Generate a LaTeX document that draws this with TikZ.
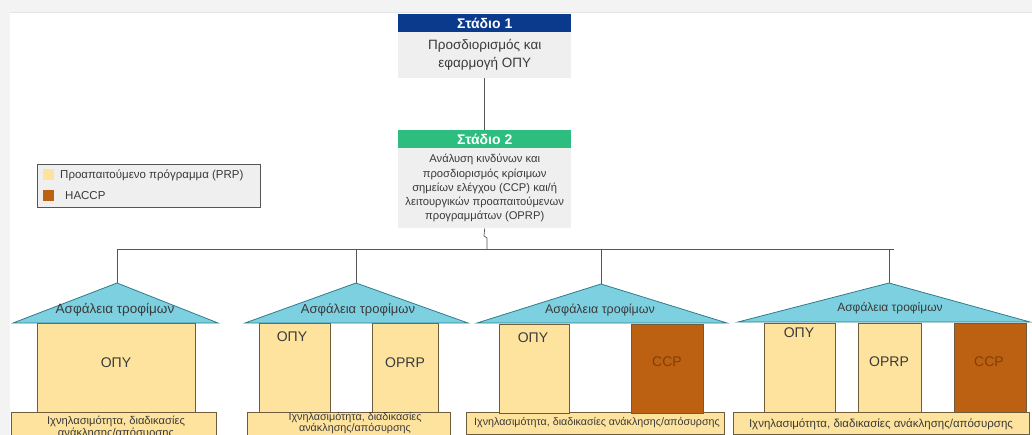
\documentclass[tikz,border=0pt]{standalone}
\usepackage{fontspec}
\setmainfont{Liberation Sans}
\definecolor{framegray}{HTML}{F3F3F3}
\definecolor{frameline}{HTML}{E4E4E4}
\definecolor{stageblue}{HTML}{0B3A8C}
\definecolor{stagegreen}{HTML}{2DBE7F}
\definecolor{bodygray}{HTML}{EFEFEF}
\definecolor{roofcyan}{HTML}{7DD0E0}
\definecolor{roofedge}{HTML}{2E7C8C}
\definecolor{prpfill}{HTML}{FDE39E}
\definecolor{prpedge}{HTML}{6E5C3C}
\definecolor{ccpfill}{HTML}{BC6112}
\definecolor{ccptext}{HTML}{7E3F0A}
\definecolor{txtgray}{HTML}{3A3A3A}
\definecolor{linegray}{HTML}{555555}
\begin{document}
\begin{tikzpicture}[x=1pt,y=-1pt,
  header/.style={fill=#1, text=white, minimum width=173pt, minimum height=18pt,
    inner sep=0pt, anchor=north west, font=\bfseries\fontsize{14}{16}\selectfont},
  stagebody/.style={fill=bodygray, minimum width=173pt, minimum height=#1,
    inner sep=0pt, anchor=north west, align=center, text=txtgray},
  pillar/.style={draw=prpedge, line width=0.8pt, fill=prpfill, anchor=north west,
    inner sep=0pt},
  ccppillar/.style={pillar, fill=ccpfill},
  roof/.style={draw=roofedge, line width=0.8pt, fill=roofcyan},
  rooftext/.style={text=txtgray, font=\fontsize{#1}{14}\selectfont},
  pillartext/.style={text=txtgray, font=\fontsize{14}{16}\selectfont},
  basebar/.style={pillar, align=center},
  basetext/.style={text=txtgray, align=center, inner sep=0pt},
  conn/.style={draw=linegray, line width=0.7pt},
  swatch/.style={minimum width=11pt, minimum height=11pt, inner sep=0pt, anchor=north west}
]
\useasboundingbox (0,0) rectangle (1032,435);
\clip (0,0) rectangle (1032,435);

% page frame
\fill[framegray] (0,0) rectangle (1032,13);
\fill[framegray] (0,0) rectangle (10,435);
\draw[frameline, line width=1pt] (10,12.5) -- (1032,12.5);

% stage 1
\node[header=stageblue] (s1h) at (398,14) {Στάδιο 1};
\node[stagebody=46pt, font=\fontsize{13.5}{18}\selectfont] (s1) at (398,32)
  {Προσδιορισμός και\\εφαρμογή ΟΠΥ};

% stage 2
\node[header=stagegreen] (s2h) at (398,130) {Στάδιο 2};
\node[stagebody=80pt, font=\fontsize{11.2}{14.2}\selectfont] (s2) at (398,148)
  {Ανάλυση κινδύνων και\\προσδιορισμός κρίσιμων\\σημείων ελέγχου (CCP) και/ή\\λειτουργικών προαπαιτούμενων\\προγραμμάτων (OPRP)};

% legend
\node[draw=linegray, line width=0.6pt, fill=bodygray, minimum width=223pt,
  minimum height=43pt, anchor=north west, inner sep=0pt] (legend) at (37,164) {};
\node[swatch, fill=prpfill] (sw1) at (43,169) {};
\node[swatch, fill=ccpfill] (sw2) at (43,190) {};
\node[anchor=west, text=txtgray, font=\fontsize{11.5}{13}\selectfont, inner sep=0pt]
  (lg1) at (60,175) {Προαπαιτούμενο πρόγραμμα (PRP)};
\node[anchor=west, text=txtgray, font=\fontsize{11.5}{13}\selectfont, inner sep=0pt]
  (lg2) at (65,196) {HACCP};

% roof apexes and distribution line
\coordinate (a1) at (117,283);
\coordinate (a2) at (356,283);
\coordinate (a3) at (601,284);
\coordinate (a4) at (889,283);
\coordinate (b1) at (117,249);
\coordinate (b2) at (356,249);
\coordinate (b3) at (601,249);
\coordinate (b4) at (889,249);
\coordinate (bend) at (894,249);
\coordinate (j1) at (484,236);
\coordinate (j2) at (487,238);
\coordinate (jb) at (487,249);

\draw[conn] (s1.south) -- (s2h.north);
\draw[conn] (s2.south) -- (j1) -- (j2) -- (jb);
\draw[conn] (b1) -- (bend);
\draw[conn] (b1) -- (a1);
\draw[conn] (b2) -- (a2);
\draw[conn] (b3) -- (a3);
\draw[conn] (b4) -- (a4);

% house 1
\node[basebar, minimum width=205pt, minimum height=30pt] (base1) at (11,412) {};
\node[pillar, minimum width=158pt, minimum height=89pt] (h1p1) at (37,323) {};
\filldraw[roof] (13,323) -- (a1) -- (218,323) -- cycle;
\node[rooftext=13.5] (r1) at (115,310) {Ασφάλεια τροφίμων};
\node[pillartext] (t11) at (116,363) {ΟΠΥ};
\node[basetext, font=\fontsize{11.2}{11.5}\selectfont, anchor=north] (bt1) at (116,416)
  {Ιχνηλασιμότητα, διαδικασίες\\ανάκλησης/απόσυρσης};

% house 2
\node[basebar, minimum width=203pt, minimum height=30pt] (base2) at (247,412) {};
\node[pillar, minimum width=71pt, minimum height=89pt] (h2p1) at (259,323) {};
\node[pillar, minimum width=66pt, minimum height=89pt] (h2p2) at (372,323) {};
\filldraw[roof] (245,323) -- (a2) -- (468,323) -- cycle;
\node[rooftext=13] (r2) at (358,310) {Ασφάλεια τροφίμων};
\node[pillartext] (t21) at (292,337) {ΟΠΥ};
\node[pillartext] (t22) at (405,363) {OPRP};
\node[basetext, font=\fontsize{10.8}{11}\selectfont, anchor=north] (bt2) at (355,412)
  {Ιχνηλασιμότητα, διαδικασίες\\ανάκλησης/απόσυρσης};

% house 3
\node[basebar, minimum width=258pt, minimum height=22pt] (base3) at (466,412) {};
\node[pillar, minimum width=70pt, minimum height=89pt] (h3p1) at (499,324) {};
\node[ccppillar, minimum width=72pt, minimum height=89pt] (h3p2) at (631,324) {};
\filldraw[roof] (477,323) -- (a3) -- (727,323) -- cycle;
\node[rooftext=12.5] (r3) at (600,310) {Ασφάλεια τροφίμων};
\node[pillartext] (t31) at (533,338) {ΟΠΥ};
\node[pillartext, text=ccptext] (t32) at (667,362) {CCP};
\node[basetext, font=\fontsize{10.7}{11}\selectfont] (bt3) at (597,423)
  {Ιχνηλασιμότητα, διαδικασίες ανάκλησης/απόσυρσης};

% house 4
\node[basebar, minimum width=296pt, minimum height=22pt] (base4) at (733,412) {};
\node[pillar, minimum width=71pt, minimum height=89pt] (h4p1) at (764,323) {};
\node[pillar, minimum width=63pt, minimum height=89pt] (h4p2) at (858,323) {};
\node[ccppillar, minimum width=72pt, minimum height=89pt] (h4p3) at (954,323) {};
\filldraw[roof] (738,322) -- (a4) -- (1030,322) -- cycle;
\node[rooftext=12] (r4) at (890,308) {Ασφάλεια τροφίμων};
\node[pillartext] (t41) at (799,333) {ΟΠΥ};
\node[pillartext] (t42) at (889,362) {OPRP};
\node[pillartext, text=ccptext] (t43) at (989,362) {CCP};
\node[basetext, font=\fontsize{11.5}{11}\selectfont] (bt4) at (881,424)
  {Ιχνηλασιμότητα, διαδικασίες ανάκλησης/απόσυρσης};
\end{tikzpicture}
\end{document}
